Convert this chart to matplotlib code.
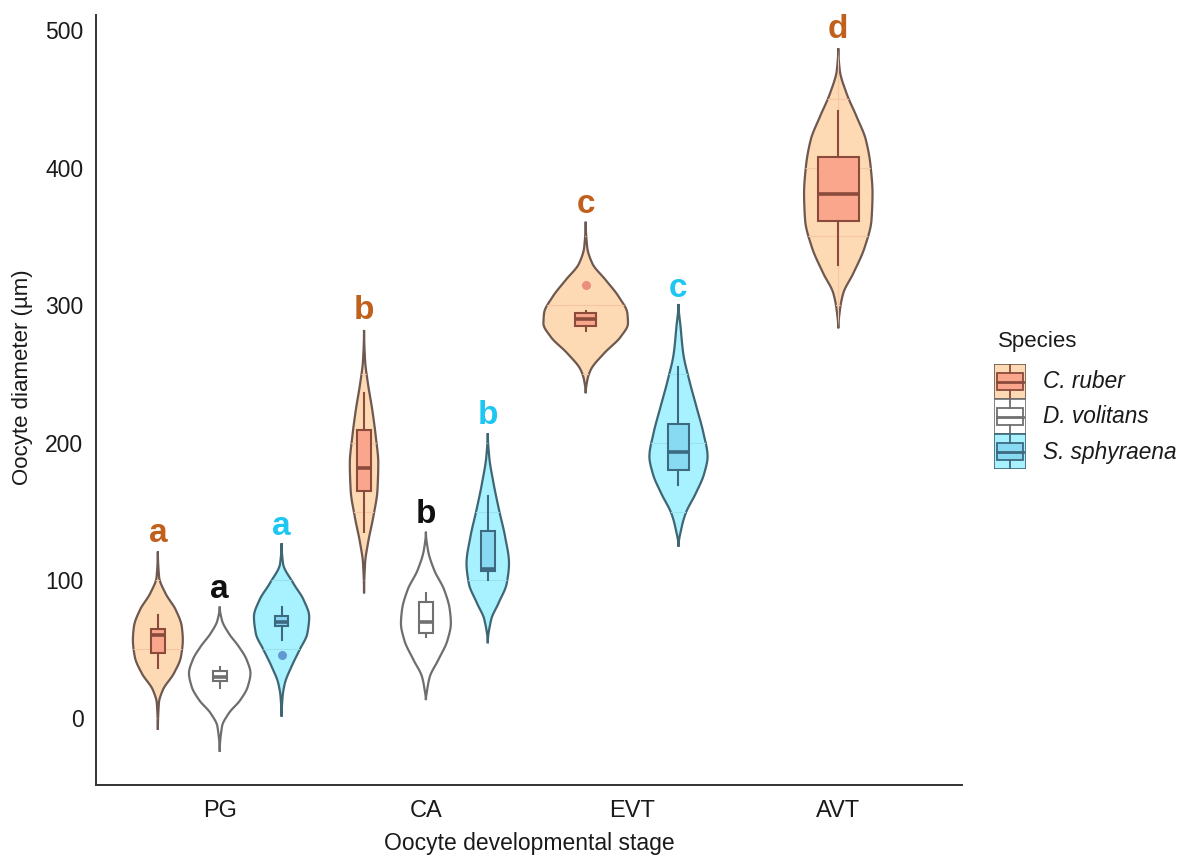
import numpy as np
import matplotlib
matplotlib.use("Agg")
import matplotlib.pyplot as plt
from matplotlib.patches import Polygon, Rectangle

plt.rcParams['font.family'] = ['Liberation Sans', 'DejaVu Sans']

stages = ['PG', 'CA', 'EVT', 'AVT']
species = ['C. ruber', 'D. volitans', 'S. sphyraena']

# which species were measured at each stage
stage_species = {
    'PG': ['C. ruber', 'D. volitans', 'S. sphyraena'],
    'CA': ['C. ruber', 'D. volitans', 'S. sphyraena'],
    'EVT': ['C. ruber', 'S. sphyraena'],
    'AVT': ['C. ruber'],
}

# violin outlines: diameter levels and half widths (category units)
violin_y = {
    ('PG', 'C. ruber'): [121, 102.6, 90.6, 78.5, 66.4, 56.7, 44.6, 32.5, 20.3, 10.7, -8.7],
    ('PG', 'D. volitans'): [81, 71, 61.5, 52, 42.2, 32.5, 22.8, 13.1, 3.4, -6.3, -24.5],
    ('PG', 'S. sphyraena'): [127, 112.4, 97.9, 85.8, 73.6, 61.5, 49.4, 37.3, 25.2, 15.5, 1],
    ('CA', 'C. ruber'): [282, 260, 243, 223.8, 204.4, 185, 165.7, 146.3, 127, 112.4, 90.6],
    ('CA', 'D. volitans'): [135.4, 122, 107.6, 93, 78.5, 68.8, 56.7, 42.2, 30, 20.3, 13],
    ('CA', 'S. sphyraena'): [207, 190, 170.6, 151, 131.8, 112.4, 97.9, 83.4, 71.2, 54.3],
    ('EVT', 'C. ruber'): [360.7, 342.5, 330.4, 318.3, 306.2, 294.1, 286.8, 277.1, 265, 252.9, 245.6, 236],
    ('EVT', 'S. sphyraena'): [300.9, 284.4, 265, 245.6, 226.2, 207, 190, 177.8, 163.3, 148.8, 139, 124.5],
    ('AVT', 'C. ruber'): [486.7, 471, 454, 437, 420, 400.7, 381.3, 362, 342.5, 323.2, 308.6, 296.5, 283.2],
}
violin_hw = {
    ('PG', 'C. ruber'): [0, .006, .037, .087, .116, .121, .112, .078, .024, .005, 0],
    ('PG', 'D. volitans'): [0, .011, .044, .092, .131, .149, .136, .100, .044, .011, 0],
    ('PG', 'S. sphyraena'): [0, .007, .057, .107, .134, .125, .087, .048, .016, .005, 0],
    ('CA', 'C. ruber'): [0, .005, .019, .040, .057, .069, .065, .045, .019, .005, 0],
    ('CA', 'D. volitans'): [0, .010, .040, .089, .116, .121, .105, .060, .019, .006, 0],
    ('CA', 'S. sphyraena'): [0, .007, .028, .055, .084, .103, .092, .052, .016, 0],
    ('EVT', 'C. ruber'): [0, .007, .032, .097, .160, .202, .205, .170, .089, .024, .008, 0],
    ('EVT', 'S. sphyraena'): [0, .010, .023, .052, .087, .121, .141, .125, .084, .035, .016, 0],
    ('AVT', 'C. ruber'): [0, .007, .040, .089, .134, .157, .166, .161, .129, .073, .024, .008, 0],
}

# box stats: whisker low, q1, median, q3, whisker high, outliers
box_stats = {
    ('PG', 'C. ruber'): (36, 47, 60, 65, 75, []),
    ('PG', 'D. volitans'): (22, 27, 30, 34, 37, []),
    ('PG', 'S. sphyraena'): (57, 67, 70, 74, 81, [46]),
    ('CA', 'C. ruber'): (135, 165, 182, 209, 236, []),
    ('CA', 'D. volitans'): (59, 62, 70, 84.5, 91, []),
    ('CA', 'S. sphyraena'): (100, 107, 108.5, 136, 161, []),
    ('EVT', 'C. ruber'): (281, 285, 290, 294, 296, [315]),
    ('EVT', 'S. sphyraena'): (169, 180, 193, 214, 255, []),
    ('AVT', 'C. ruber'): (329, 361, 381, 408, 441, []),
}

# significance letters and their baseline heights
letters = {
    ('PG', 'C. ruber'): ('a', 128),
    ('PG', 'D. volitans'): ('a', 87.4),
    ('PG', 'S. sphyraena'): ('a', 133),
    ('CA', 'C. ruber'): ('b', 290),
    ('CA', 'D. volitans'): ('b', 141.5),
    ('CA', 'S. sphyraena'): ('b', 213.7),
    ('EVT', 'C. ruber'): ('c', 366.8),
    ('EVT', 'S. sphyraena'): ('c', 305.7),
    ('AVT', 'C. ruber'): ('d', 494),
}

violin_fill = {'C. ruber': '#FDDAB3', 'D. volitans': '#FFFFFF', 'S. sphyraena': '#A8F2FF'}
violin_edge = {'C. ruber': '#6E5850', 'D. volitans': '#6E6E6E', 'S. sphyraena': '#3F6675'}
box_fill = {'C. ruber': '#F9A68C', 'D. volitans': '#FFFFFF', 'S. sphyraena': '#88DAF3'}
box_edge = {'C. ruber': '#8A4B3C', 'D. volitans': '#707070', 'S. sphyraena': '#3D6A80'}
grid_col = {'C. ruber': '#F6C6A6', 'S. sphyraena': '#98E2F0'}
flier_col = {'C. ruber': '#E8867A', 'S. sphyraena': '#5B8FCC'}
letter_col = {'C. ruber': '#C0601C', 'D. volitans': '#111111', 'S. sphyraena': '#1EC6F2'}


def smooth_profile(yk, wk, n=300):
    # monotone-ish cubic hermite through the knots
    yk = np.asarray(yk, float)[::-1]
    wk = np.asarray(wk, float)[::-1]
    d = np.diff(wk) / np.diff(yk)
    m = np.zeros_like(wk)
    for i in range(1, len(wk) - 1):
        if d[i - 1] * d[i] > 0:
            m[i] = 2 / (1 / d[i - 1] + 1 / d[i])
    ys = np.linspace(yk[0], yk[-1], n)
    ws = np.empty(n)
    for j, y in enumerate(ys):
        i = min(np.searchsorted(yk, y, side='right') - 1, len(yk) - 2)
        h = yk[i + 1] - yk[i]
        t = (y - yk[i]) / h
        h00 = 2 * t**3 - 3 * t**2 + 1
        h10 = t**3 - 2 * t**2 + t
        h01 = -2 * t**3 + 3 * t**2
        h11 = t**3 - t**2
        ws[j] = h00 * wk[i] + h10 * h * m[i] + h01 * wk[i + 1] + h11 * h * m[i + 1]
    return ys, np.clip(ws, 0, None)


fig = plt.figure(figsize=(11.86, 8.57), dpi=100)
ax = fig.add_axes([96 / 1186, 1 - 785 / 857, 866 / 1186, 770 / 857])

for si, stage in enumerate(stages):
    present = stage_species[stage]
    n = len(present)
    slot = 0.9 / n
    for k, sp in enumerate(present):
        key = (stage, sp)
        xc = si + 1 - 0.45 + slot * (k + 0.5)
        ys, ws = smooth_profile(violin_y[key], violin_hw[key])
        pts = np.concatenate([np.column_stack([xc - ws, ys]),
                              np.column_stack([xc + ws, ys])[::-1]])
        poly = Polygon(pts, closed=True, facecolor=violin_fill[sp],
                       edgecolor=violin_edge[sp], linewidth=1.6, zorder=2)
        ax.add_patch(poly)
        # faint grid showing through the tinted fills
        if sp in grid_col:
            for gy in range(0, 501, 50):
                gl = ax.axhline(gy, color=grid_col[sp], lw=0.8, zorder=2.1)
                gl.set_clip_path(poly)
            gv = ax.axvline(si + 1, color=grid_col[sp], lw=0.8, zorder=2.1)
            gv.set_clip_path(poly)

        wlo, q1, med, q3, whi, fl = box_stats[key]
        stats = [dict(whislo=wlo, q1=q1, med=med, q3=q3, whishi=whi, fliers=fl)]
        ax.bxp(stats, positions=[xc], widths=0.2 / n, patch_artist=True,
               showcaps=False, manage_ticks=False,
               boxprops=dict(facecolor=box_fill[sp], edgecolor=box_edge[sp], linewidth=1.5),
               whiskerprops=dict(color=box_edge[sp], linewidth=1.5),
               medianprops=dict(color=box_edge[sp], linewidth=2.6),
               flierprops=dict(marker='o', markersize=6.5,
                               markerfacecolor=flier_col.get(sp, '#888888'),
                               markeredgecolor='none', alpha=0.9),
               zorder=3)

        txt, ly = letters[key]
        ax.text(xc, ly, txt, ha='center', va='baseline', fontsize=24,
                fontweight='bold', color=letter_col[sp], zorder=4)

ax.set_xlim(0.4, 4.6)
ax.set_ylim(-48.7, 510.9)
ax.set_xticks(range(1, len(stages) + 1))
ax.set_xticklabels(stages)
ax.set_yticks([0, 100, 200, 300, 400, 500])
ax.tick_params(axis='both', length=0, colors='#1a1a1a')
ax.tick_params(axis='x', pad=11, labelsize=17)
ax.tick_params(axis='y', pad=9, labelsize=16.5)
for s in ['top', 'right']:
    ax.spines[s].set_visible(False)
for s in ['left', 'bottom']:
    ax.spines[s].set_color('#333333')
    ax.spines[s].set_linewidth(1.4)
ax.set_xlabel('Oocyte developmental stage', fontsize=16.5, color='#1a1a1a', labelpad=7)
ax.set_ylabel('Oocyte diameter (µm)', fontsize=16, color='#1a1a1a')
ax.yaxis.set_label_coords(-0.073, 0.53)

# legend drawn by hand, ggplot style keys
fig.text(998 / 1186, 1 - 341 / 857, 'Species', fontsize=16, color='#1a1a1a',
         ha='left', va='center')
lax = fig.add_axes([994 / 1186, 1 - 469 / 857, 32 / 1186, 105 / 857])
lax.set_xlim(0, 1)
lax.set_ylim(0, 3)
lax.axis('off')
for i, sp in enumerate(species):
    y0 = 2 - i
    lax.add_patch(Rectangle((0, y0), 1, 1, facecolor=violin_fill[sp],
                            edgecolor=violin_edge[sp], lw=1.2))
    lax.plot([0.5, 0.5], [y0, y0 + 0.25], color=box_edge[sp], lw=1.3)
    lax.plot([0.5, 0.5], [y0 + 0.75, y0 + 1], color=box_edge[sp], lw=1.3)
    lax.add_patch(Rectangle((0.08, y0 + 0.25), 0.84, 0.5, facecolor=box_fill[sp],
                            edgecolor=box_edge[sp], lw=1.3))
    lax.plot([0.08, 0.92], [y0 + 0.5, y0 + 0.5], color=box_edge[sp], lw=2)
    fig.text(1043 / 1186, 1 - (381 + 35.5 * i) / 857, sp, fontsize=16.3,
             style='italic', color='#1a1a1a', ha='left', va='center')

fig.savefig('out.png', dpi=100)
